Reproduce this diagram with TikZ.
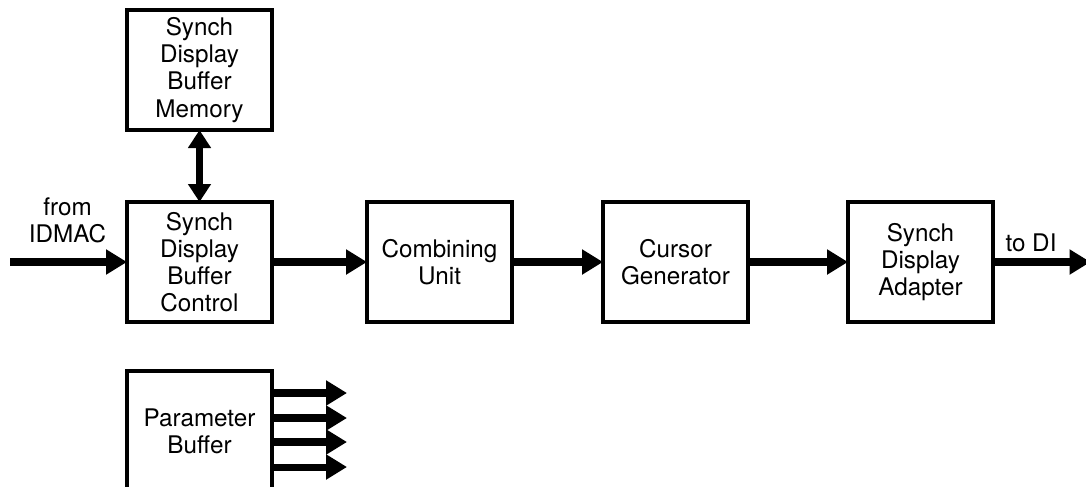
\documentclass[tikz,border=0pt]{standalone}
\usepackage{fontspec}
\setmainfont{TeX Gyre Heros}
\usetikzlibrary{arrows.meta,positioning}

\begin{document}
\begin{tikzpicture}[
    box/.style={rectangle, draw, line width=2.2pt, outer sep=0pt,
                minimum width=2.9cm, minimum height=2.4cm,
                font=\fontsize{13.8}{15.4}\selectfont, align=center},
    label/.style={font=\fontsize{13.8}{15.4}\selectfont, align=center},
    arrow/.style={-{Triangle[length=0.42cm,width=0.48cm]}, line width=4pt},
    darrow/.style={{Triangle[length=0.36cm,width=0.44cm]}-{Triangle[length=0.36cm,width=0.44cm]}, line width=4pt}
]
\useasboundingbox (0,0) rectangle (21.72,-9.72);

\node[box] (mem) at (3.99,-1.4) {Synch\\Display\\Buffer\\Memory};
\node[box, below=1.44cm of mem]  (ctrl)   {Synch\\Display\\Buffer\\Control};
\node[box, right=1.9cm of ctrl]  (comb)   {Combining\\Unit};
\node[box, right=1.82cm of comb] (cursor) {Cursor\\Generator};
\node[box, right=2.0cm of cursor] (adapt) {Synch\\Display\\Adapter};
\node[box, below=0.98cm of ctrl] (param)  {Parameter\\Buffer};

\coordinate[left=2.34cm of ctrl.west]  (in);
\coordinate[right=1.95cm of adapt.east] (out);
\node[label] (from) at (1.35,-4.4) {from\\IDMAC};
\node[label] (todi) at (20.62,-4.85) {to DI};

\draw[arrow]  (in)     -- (ctrl);
\draw[darrow] (mem)    -- (ctrl);
\draw[arrow]  (ctrl)   -- (comb);
\draw[arrow]  (comb)   -- (cursor);
\draw[arrow]  (cursor) -- (adapt);
\draw[arrow]  (adapt)  -- (out);

% parameter outputs
\foreach \y [count=\i] in {7.86,8.36,8.84,9.34} {
  \coordinate (p\i) at (6.94,-\y);
  \draw[arrow] (param.east |- p\i) -- (p\i);
}
\end{tikzpicture}
\end{document}
